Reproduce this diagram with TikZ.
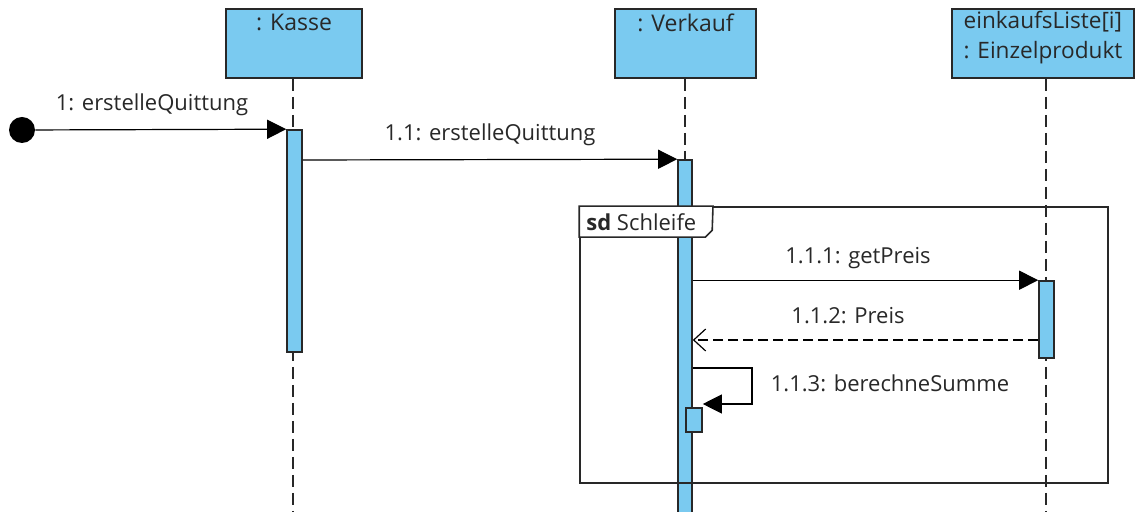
\documentclass[tikz,border=0pt]{standalone}
\usepackage{fontspec}
\setmainfont{Open Sans}
\definecolor{lifeblue}{RGB}{122,202,240}
\definecolor{inkgray}{RGB}{40,40,40}
\usetikzlibrary{arrows.meta, calc}
\tikzset{
  objbox/.style={draw=inkgray, fill=lifeblue, line width=1pt,
                 minimum width=#1, minimum height=34.5pt, inner sep=0pt,
                 font=\fontsize{11.3}{15}\selectfont, align=center},
  actbar/.style={draw=inkgray, fill=lifeblue, line width=0.8pt,
                 minimum width=7.5pt, minimum height=#1, inner sep=0pt},
  lifeline/.style={draw=inkgray, line width=0.7pt, dash pattern=on 6pt off 3pt},
  msg/.style={draw=black, line width=0.6pt, -{Triangle[length=9.5pt, width=9.5pt]}},
  ret/.style={draw=black, line width=0.6pt, dash pattern=on 5pt off 2.5pt,
              -{Straight Barb[length=6pt, width=11pt, line width=0.6pt]}},
  lbl/.style={font=\fontsize{11}{13}\selectfont, text=inkgray, inner sep=1pt},
  hdr/.style={font=\fontsize{11.5}{13}\selectfont, text=inkgray, inner sep=1pt},
}
\begin{document}
\begin{tikzpicture}[x=0.5pt, y=-0.5pt]
    \useasboundingbox[fill=white] (0,0) rectangle (1135,512);

    % ─── Objects ───────────────────────────────────────────────
    \node[objbox=68pt, label={[hdr, anchor=north, yshift=-2pt]north:{: Kasse}}]
      (kasse) at (294,43.5) {};
    \node[objbox=70.5pt, label={[hdr, anchor=north, yshift=-2pt]north:{: Verkauf}}]
      (verkauf) at (685.5,43.5) {};
    \node[objbox=91pt, align=left, text=inkgray] (produkt) at (1043,43.5) {};
    \node[font=\fontsize{11.3}{15}\selectfont, text=inkgray, align=left, inner sep=0pt]
      (produktTxt) at (1043,38) {einkaufsListe[i]\\: Einzelprodukt};

    % lifelines
    \coordinate (kasseEnd) at (293,512);
    \coordinate (verkaufEnd) at (685,512);
    \coordinate (produktEnd) at (1046,512);
    \draw[lifeline] (kasse.south -| kasseEnd) -- (kasseEnd);
    \draw[lifeline] (verkauf.south -| verkaufEnd) -- (verkaufEnd);
    \draw[lifeline] (produkt.south -| produktEnd) -- (produktEnd);

    % ─── Activations ───────────────────────────────────────────
    \node[actbar=111pt] (actK) at (294.5,241) {};
    \node[actbar=178pt, minimum width=7pt] (actV) at (685,338) {};
    \node[actbar=38.5pt] (actP) at (1046.5,319.5) {};
    \node[actbar=12pt, minimum width=8pt] (actVs) at (694,420) {};

    % ─── Frame (loop) ──────────────────────────────────────────
    \node[draw=inkgray, line width=0.8pt, minimum width=264pt, minimum height=138pt,
          inner sep=0pt] (frame) at (844,345) {};
    \filldraw[fill=white, draw=inkgray, line width=0.8pt] (frame.north west)
      -- ++(0,31) -- ++(126,0) -- ++(7,-7) -- (frame.north west -| 713,0) -- cycle;
    \node[lbl, anchor=west] (tab) at (584,222.5) {\textbf{sd} Schleife};

    % ─── Messages ──────────────────────────────────────────────
    \node[circle, fill=black, minimum size=13pt, inner sep=0pt] (start) at (22,130) {};
    \draw[msg] (start) -- (actK.north west);
    \node[lbl] (m1) at (152,105) {1: erstelleQuittung};

    \draw[msg] (actK.east |- 0,160) -- (actV.north west);
    \node[lbl] (m11) at (490,135) {1.1: erstelleQuittung};

    \draw[msg] (actV.east |- actP.north) -- (actP.north west);
    \node[lbl] (m111) at (858,258) {1.1.1: getPreis};

    \coordinate (retY) at (0,340);
    \draw[ret] (actP.west |- retY) -- (actV.east |- retY);
    \node[lbl] (m112) at (848,316) {1.1.2: Preis};

    \coordinate (selfA) at (752,368);
    \coordinate (selfB) at (752,404);
    \draw[msg] (actV.east |- selfA) -- (selfA) -- (selfB) -- (selfB -| actVs.east);
    \node[lbl] (m113) at (890,383) {1.1.3: berechneSumme};

  \end{tikzpicture}
\end{document}
